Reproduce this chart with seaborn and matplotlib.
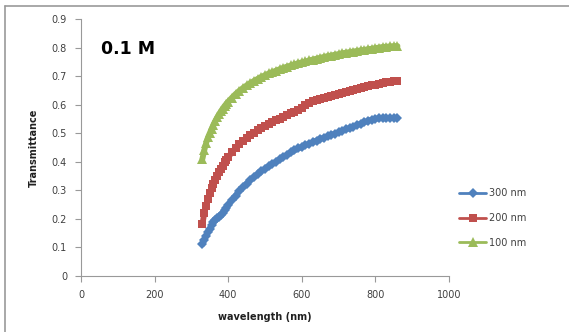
import matplotlib
matplotlib.use("Agg")
import matplotlib.pyplot as plt
import seaborn as sns
from matplotlib.lines import Line2D

wavelength = [330, 335, 340, 345, 350, 355, 360, 365, 370, 375, 380, 385, 390, 395, 400,
              410, 420, 430, 440, 450, 460, 470, 480, 490, 500, 510, 520, 530, 540, 550,
              560, 570, 580, 590, 600, 610, 620, 630, 640, 650, 660, 670, 680, 690, 700,
              710, 720, 730, 740, 750, 760, 770, 780, 790, 800, 810, 820, 830, 840, 850, 860]

t_300 = [0.110, 0.125, 0.140, 0.152, 0.165, 0.177, 0.187, 0.195, 0.201, 0.206, 0.212, 0.220, 0.229, 0.239, 0.248,
         0.265, 0.281, 0.296, 0.310, 0.323, 0.335, 0.346, 0.357, 0.366, 0.375, 0.384, 0.392, 0.400, 0.408, 0.416,
         0.424, 0.432, 0.439, 0.446, 0.452, 0.457, 0.463, 0.468, 0.474, 0.479, 0.484, 0.489, 0.494, 0.498, 0.503,
         0.508, 0.513, 0.518, 0.523, 0.528, 0.533, 0.538, 0.543, 0.547, 0.550, 0.552, 0.552, 0.552, 0.552, 0.553, 0.552]

t_200 = [0.180, 0.220, 0.245, 0.270, 0.290, 0.308, 0.323, 0.337, 0.350, 0.362, 0.373, 0.386, 0.397, 0.407, 0.416,
         0.432, 0.447, 0.460, 0.472, 0.483, 0.493, 0.502, 0.510, 0.518, 0.525, 0.532, 0.539, 0.545, 0.551, 0.557,
         0.563, 0.569, 0.574, 0.580, 0.588, 0.597, 0.605, 0.611, 0.615, 0.619, 0.623, 0.627, 0.631, 0.635, 0.638,
         0.642, 0.645, 0.649, 0.652, 0.655, 0.658, 0.661, 0.664, 0.667, 0.670, 0.673, 0.676, 0.678, 0.680, 0.681, 0.681]

t_100 = [0.410, 0.440, 0.465, 0.485, 0.500, 0.515, 0.530, 0.543, 0.555, 0.566, 0.576, 0.586, 0.595, 0.603, 0.610,
         0.624, 0.637, 0.648, 0.658, 0.667, 0.675, 0.683, 0.690, 0.697, 0.703, 0.709, 0.714, 0.719, 0.724, 0.729,
         0.733, 0.737, 0.741, 0.745, 0.748, 0.751, 0.755, 0.758, 0.761, 0.764, 0.767, 0.770, 0.772, 0.775, 0.777,
         0.780, 0.782, 0.784, 0.786, 0.788, 0.790, 0.792, 0.794, 0.796, 0.798, 0.800, 0.802, 0.803, 0.804, 0.805, 0.805]

series = [("300 nm", t_300, "#4F81BD", "D", 5),
          ("200 nm", t_200, "#C0504D", "s", 6),
          ("100 nm", t_100, "#9BBB59", "^", 6.5)]

sns.set_style("white")
plt.rcParams["font.family"] = ["DejaVu Sans"]

W, H = 569, 332
fig = plt.figure(figsize=(W / 100, H / 100), dpi=100)
ax = fig.add_axes([81 / W, 1 - 275.7 / H, 368 / W, 256.7 / H])

for name, vals, col, mk, ms in series:
    sns.lineplot(x=wavelength, y=vals, ax=ax, color=col, marker=mk, markersize=ms,
                 markeredgewidth=0, linewidth=4.2, legend=False)

ax.set_xlim(0, 1000)
ax.set_ylim(0, 0.9)
ax.set_xticks([0, 200, 400, 600, 800, 1000])
ax.set_yticks([0, 0.1, 0.2, 0.3, 0.4, 0.5, 0.6, 0.7, 0.8, 0.9])
ax.set_yticklabels(["0", "0.1", "0.2", "0.3", "0.4", "0.5", "0.6", "0.7", "0.8", "0.9"])

for s in ["top", "right"]:
    ax.spines[s].set_visible(False)
for s in ["left", "bottom"]:
    ax.spines[s].set_color("#999999")
    ax.spines[s].set_linewidth(0.8)
ax.tick_params(axis="both", direction="out", length=4, width=0.8, color="#999999",
               labelsize=7, labelcolor="#404040", pad=6, left=True, bottom=True)

ax.set_xlabel("wavelength (nm)", fontsize=7, fontweight="bold", color="#202020")
ax.xaxis.set_label_coords(0.5, -0.14)
ax.set_ylabel("Transmittance", fontsize=7, fontweight="bold", color="#202020")
ax.yaxis.set_label_coords(-0.115, 0.5)

ax.text(0.054, 0.883, "0.1 M", transform=ax.transAxes, fontsize=12.5,
        fontweight="bold", va="center", ha="left", color="black")

handles = [Line2D([0], [0], color=col, marker=mk, markersize=ms, markeredgewidth=0, linewidth=2)
           for _, _, col, mk, ms in series]
fig.legend(handles, [s[0] for s in series], loc="center left",
           bbox_to_anchor=(459 / W, 1 - 218 / H), bbox_transform=fig.transFigure,
           frameon=False, fontsize=7, handlelength=2.8, handletextpad=0.3,
           labelspacing=1.5, borderpad=0, borderaxespad=0, labelcolor="#404040")

# outer chart frame (only top and left edges visible in the crop)
fig.add_artist(Line2D([5 / W, 1], [1 - 6 / H, 1 - 6 / H], color="#999999", linewidth=1.2,
                      transform=fig.transFigure))
fig.add_artist(Line2D([5 / W, 5 / W], [0, 1 - 6 / H], color="#999999", linewidth=1.2,
                      transform=fig.transFigure))

fig.savefig("out.png", dpi=100)
